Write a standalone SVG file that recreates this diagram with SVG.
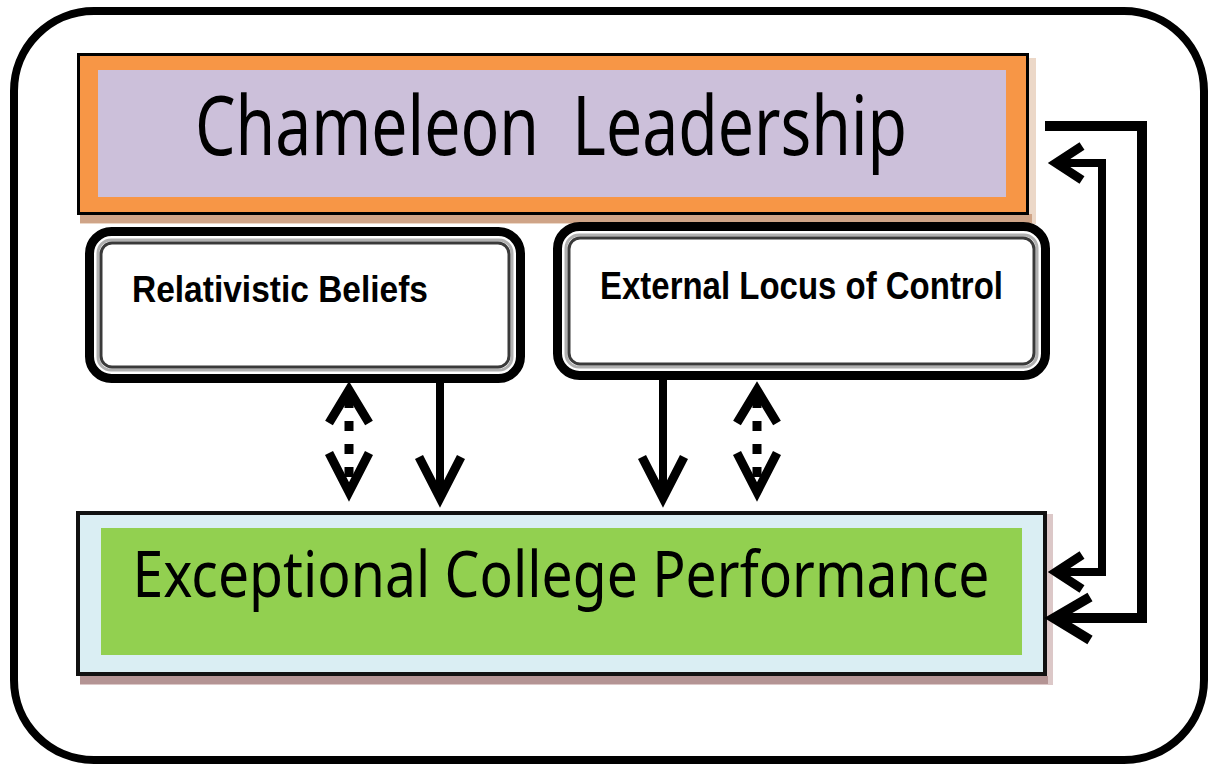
<svg xmlns="http://www.w3.org/2000/svg" width="1209" height="765" viewBox="0 0 1209 765">
<style>
.big{font-family:"Noto Sans","Open Sans",sans-serif;fill:#000}
.mid{font-family:"Liberation Sans",Arial,sans-serif;font-weight:bold;fill:#000}
.conn{fill:none;stroke:#000;stroke-linejoin:miter}
.outerbox{fill:#fff;stroke:#000;stroke-width:9}
.innerbox{fill:#fff;stroke:#3a3a3a;stroke-width:3}
.innergray{fill:none;stroke:#b0b0b0;stroke-width:3}
</style>
<rect width="1209" height="765" fill="#fff"/>
<rect id="frame" x="14" y="11" width="1190" height="749" rx="80" fill="none" stroke="#000" stroke-width="8"/>

<g id="chameleon">
  <rect x="80" y="58" width="956" height="166" fill="#ecd8c8"/>
  <rect x="80" y="214" width="952" height="9" fill="#cfa487"/>
  <rect x="78.5" y="54.5" width="949" height="159" fill="#F79646" stroke="#000" stroke-width="3"/>
  <rect x="98" y="70" width="908" height="127" fill="#CCC0DA"/>
  <text class="big" x="551" y="155" font-size="82" text-anchor="middle" textLength="712" lengthAdjust="spacingAndGlyphs">Chameleon&#160; Leadership</text>
</g>

<g id="relativistic">
  <rect class="outerbox" x="89.5" y="231.5" width="431" height="147" rx="22"/>
  <rect class="innergray" x="98" y="240" width="414" height="130" rx="13"/>
  <rect class="innerbox" x="101" y="243" width="408" height="124" rx="11"/>
  <text class="mid" x="132" y="302" font-size="37" textLength="296" lengthAdjust="spacingAndGlyphs">Relativistic Beliefs</text>
</g>

<g id="external">
  <rect class="outerbox" x="557.5" y="226.5" width="488" height="149" rx="22"/>
  <rect class="innergray" x="566" y="235" width="471" height="132" rx="13"/>
  <rect class="innerbox" x="569" y="238" width="465" height="126" rx="11"/>
  <text class="mid" x="600" y="299" font-size="38" textLength="403" lengthAdjust="spacingAndGlyphs">External Locus of Control</text>
</g>

<g id="exceptional">
  <rect x="80" y="514" width="973" height="171" fill="#dcc8c8"/>
  <rect x="80" y="676" width="968" height="8" fill="#b49494"/>
  <rect x="78" y="513" width="967" height="161" fill="#DAEEF3" stroke="#111" stroke-width="4"/>
  <rect x="101" y="528" width="921" height="127" fill="#92D050"/>
  <text class="big" x="561" y="597" font-size="64" text-anchor="middle" textLength="857" lengthAdjust="spacingAndGlyphs">Exceptional College Performance</text>
</g>

<g id="connectors">
  <!-- Relativistic dashed double arrow -->
  <line class="conn" x1="349" y1="398" x2="349" y2="488" stroke-width="9" stroke-dasharray="10 13"/>
  <polyline class="conn" points="329,423 349,390 369,423" stroke-width="9"/>
  <polyline class="conn" points="329,453 349,492 369,453" stroke-width="9"/>
  <!-- Relativistic solid arrow -->
  <line class="conn" x1="440" y1="382" x2="440" y2="500" stroke-width="8"/>
  <polyline class="conn" points="419,457 440,498 461,457" stroke-width="9"/>
  <!-- External solid arrow -->
  <line class="conn" x1="663" y1="379" x2="663" y2="500" stroke-width="8"/>
  <polyline class="conn" points="642,457 663,498 684,457" stroke-width="9"/>
  <!-- External dashed double arrow -->
  <line class="conn" x1="757" y1="398" x2="757" y2="488" stroke-width="9" stroke-dasharray="10 13"/>
  <polyline class="conn" points="737,423 757,390 777,423" stroke-width="9"/>
  <polyline class="conn" points="737,453 757,492 777,453" stroke-width="9"/>
  <!-- Outer feedback: Chameleon -> Exceptional -->
  <polyline class="conn" points="1045,126 1142,126 1142,618 1056,618" stroke-width="10"/>
  <polyline class="conn" points="1090,597 1054,618 1090,640" stroke-width="10"/>
  <!-- Inner feedback: double-headed -->
  <polyline class="conn" points="1060,163 1102,163 1102,572 1060,572" stroke-width="8"/>
  <polyline class="conn" points="1082,146 1056,163 1082,180" stroke-width="9"/>
  <polyline class="conn" points="1082,555 1056,572 1082,589" stroke-width="9"/>
</g>
</svg>
